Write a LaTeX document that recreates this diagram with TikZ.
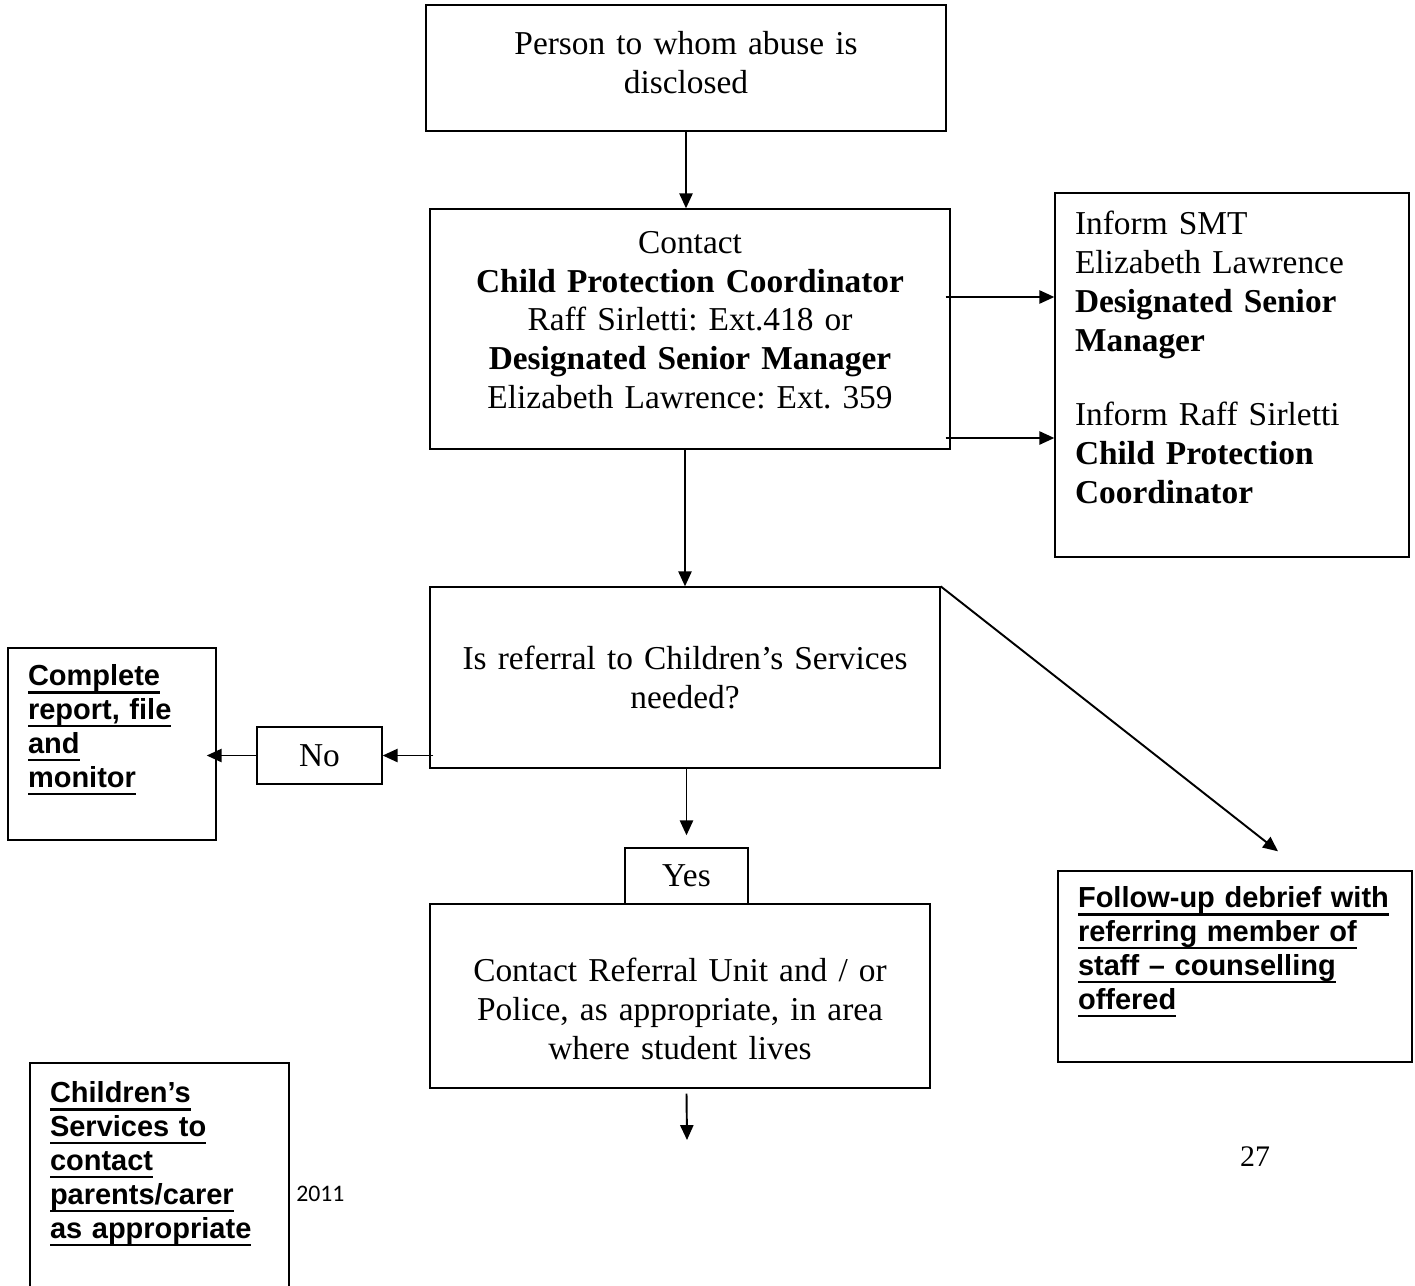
\documentclass[tikz,border=0pt]{standalone}
\usepackage{fontspec}
\setmainfont{Liberation Serif}
\setsansfont{Liberation Sans}
\newfontfamily\calibri{Carlito}
\frenchspacing
\usetikzlibrary{arrows.meta,calc}
\newsavebox\ulbox
\newcommand{\ulline}[1]{\leavevmode\sbox\ulbox{#1}\rlap{\rule[-4.4pt]{\wd\ulbox}{1.4pt}}\usebox\ulbox}
\tikzset{
        flowbox/.style = {rectangle, draw=black, line width=0.8pt, inner xsep=0.2cm,
            inner ysep=0pt, align=center, font=\fontsize{19}{22}\selectfont},
        notebox/.style = {rectangle, draw=black, line width=0.8pt, inner xsep=0.4cm,
            inner ysep=0pt, align=left, font=\fontsize{16.5}{19.3}\sffamily\bfseries\selectfont},
        padbot/.style = {execute at end node={\par\vspace*{#1}}}
    }
\begin{document}
\begin{tikzpicture}[x=0.02cm, y=-0.02cm, >={Triangle[length=8.5pt,width=7.5pt]},
            arr/.style={->, line width=1.1pt}]
    \useasboundingbox (0,0) rectangle (1415,1285);
    % main column
    \node [flowbox, minimum width=10.4cm, minimum height=2.52cm, text width=10cm,
        padbot=0.22cm] (disclosed) at (686,68) {Person to whom abuse is\\ disclosed};
    \node [flowbox, minimum width=10.4cm, minimum height=4.8cm, text width=10cm,
        padbot=0.36cm] (contact) at (690,329) {Contact\\
        \textbf{Child Protection Coordinator}\\ Raff Sirletti: Ext.418 or\\
        \textbf{Designated Senior Manager}\\ Elizabeth Lawrence: Ext. 359};
    \node [flowbox, minimum width=10.2cm, minimum height=3.62cm, text width=9.8cm]
        (referral) at (685,677.5) {Is referral to Children’s Services\\ needed?};
    \node [flowbox, minimum width=2.5cm, minimum height=1.14cm, text width=2.1cm]
        (nobox) at (319.5,755.5) {No};
    \node [flowbox, minimum width=2.46cm, minimum height=1.12cm, text width=2.06cm]
        (yesbox) at (686.5,876) {Yes};
    \node [flowbox, minimum width=10cm, minimum height=3.68cm, text width=9.6cm,
        padbot=-0.52cm] (police) at (680,996) {Contact Referral Unit and / or\\
        Police, as appropriate, in area\\ where student lives};
    \coordinate (onward) at (687,1140);
    % informing box
    \node [flowbox, align=left, inner xsep=0.4cm, minimum width=7.08cm, minimum height=7.28cm,
        text width=6.28cm, font=\fontsize{19}{22.2}\selectfont, padbot=0.7cm] (inform)
        at (1232,375) {Inform SMT\\ Elizabeth Lawrence\\ \textbf{Designated Senior}\\
        \textbf{Manager}\\[20pt] Inform Raff Sirletti\\ \textbf{Child Protection}\\
        \textbf{Coordinator}};
    % side notes
    \node [notebox, minimum width=4.16cm, minimum height=3.84cm, text width=3.36cm,
        padbot=0.56cm] (report) at (112,744) {\ulline{Complete}\\ \ulline{report, file}\\
        \ulline{and}\\ \ulline{monitor}};
    \node [notebox, minimum width=7.08cm, minimum height=3.82cm, text width=6.28cm,
        padbot=0.58cm] (debrief) at (1235,966.5) {\ulline{Follow-up debrief with}\\
        \ulline{referring member of}\\ \ulline{staff – counselling}\\ \ulline{offered}};
    \node [notebox, minimum width=5.18cm, minimum height=4.74cm, text width=4.38cm,
        padbot=0.7cm] (parents) at (159.5,1181.5) {\ulline{Children’s}\\
        \ulline{Services to}\\ \ulline{contact}\\ \ulline{parents/carer}\\
        \ulline{as appropriate}};
    \node [anchor=west, inner sep=0pt, font=\calibri\fontsize{13.5}{16}\selectfont]
        (year) at (296,1194) {2011};
    \node [inner sep=0pt, font=\fontsize{17}{20}\selectfont] (page) at (1255,1157) {27};
    % connectors
    \draw [arr] (disclosed.south) -- (disclosed.south |- contact.north);
    \draw [arr] ($(contact.east)+(-5,-32)$) -- ($(contact.east -| inform.west)+(0,-32)$);
    \draw [arr] ($(contact.east)+(-5,109)$) -- ($(contact.east -| inform.west)+(0,109)$);
    \draw [arr] (referral.north |- contact.south) -- (referral.north);
    \draw [arr] (referral.north east) -- ($(debrief.north)+(43,-19)$);
    \draw [arr] ($(nobox.east -| referral.west)+(4,0)$) -- (nobox.east);
    \draw [arr] (nobox.west) -- ($(nobox.west -| report.east)+(-10,0)$);
    \draw [arr] (yesbox.north |- referral.south) -- ($(yesbox.north)+(0,-12)$);
    \draw [arr] ($(yesbox.south |- police.south)+(0,5)$) -- (onward);
\end{tikzpicture}
\end{document}
